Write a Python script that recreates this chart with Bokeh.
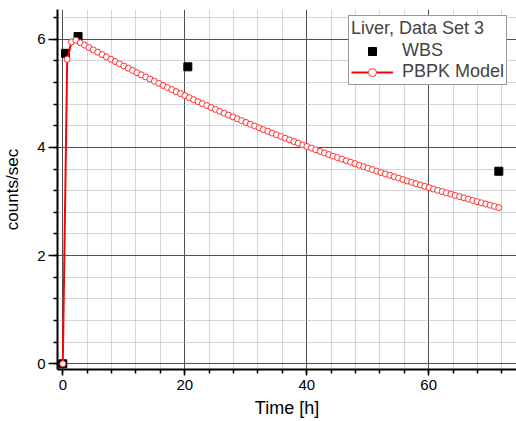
from bokeh.plotting import figure
from bokeh.models import Legend, LegendItem, Range1d, FixedTicker
from bokeh.embed import file_html
from bokeh.resources import INLINE

# WBS measured data
wbs_time = [0.0, 0.45, 2.5, 20.5, 71.5]
wbs_counts = [0.0, 5.74, 6.05, 5.49, 3.56]

# PBPK model curve
model_time = [
    0.00, 0.72, 1.43, 2.15, 2.86, 3.58, 4.29, 5.01, 5.72, 6.44,
    7.15, 7.87, 8.58, 9.30, 10.01, 10.73, 11.44, 12.16, 12.87, 13.59,
    14.30, 15.02, 15.73, 16.45, 17.16, 17.88, 18.59, 19.31, 20.02, 20.74,
    21.45, 22.17, 22.88, 23.60, 24.31, 25.03, 25.74, 26.46, 27.17, 27.89,
    28.60, 29.32, 30.03, 30.75, 31.46, 32.18, 32.89, 33.61, 34.32, 35.04,
    35.75, 36.47, 37.18, 37.90, 38.61, 39.33, 40.04, 40.76, 41.47, 42.19,
    42.90, 43.62, 44.33, 45.05, 45.76, 46.48, 47.19, 47.91, 48.62, 49.34,
    50.05, 50.77, 51.48, 52.20, 52.91, 53.63, 54.34, 55.06, 55.77, 56.49,
    57.20, 57.92, 58.63, 59.35, 60.06, 60.78, 61.49, 62.21, 62.92, 63.64,
    64.35, 65.07, 65.78, 66.50, 67.21, 67.93, 68.64, 69.36, 70.07, 70.79,
    71.50,
]
model_counts = [
    0.000, 5.630, 5.950, 5.980, 5.935, 5.891, 5.847, 5.803, 5.760, 5.717,
    5.674, 5.631, 5.589, 5.547, 5.506, 5.465, 5.424, 5.383, 5.343, 5.303,
    5.263, 5.224, 5.185, 5.146, 5.108, 5.070, 5.032, 4.994, 4.957, 4.920,
    4.883, 4.846, 4.810, 4.774, 4.738, 4.703, 4.668, 4.633, 4.598, 4.564,
    4.530, 4.496, 4.462, 4.429, 4.396, 4.363, 4.330, 4.298, 4.266, 4.234,
    4.202, 4.171, 4.140, 4.109, 4.078, 4.047, 4.017, 3.987, 3.957, 3.927,
    3.898, 3.869, 3.840, 3.811, 3.783, 3.755, 3.727, 3.699, 3.671, 3.644,
    3.617, 3.590, 3.563, 3.536, 3.510, 3.484, 3.458, 3.432, 3.406, 3.381,
    3.356, 3.331, 3.306, 3.281, 3.256, 3.232, 3.208, 3.184, 3.160, 3.136,
    3.113, 3.090, 3.067, 3.044, 3.021, 2.998, 2.976, 2.954, 2.932, 2.910,
    2.888,
]

x_ticks = [0, 20, 40, 60]
y_ticks = [0, 2, 4, 6]

FONT = "Liberation Sans"

p = figure(width=516, height=421, output_backend="svg", toolbar_location=None,
           x_range=Range1d(-0.87, 74.4), y_range=Range1d(-0.105, 6.55),
           min_border_left=57, min_border_right=0, min_border_top=9,
           min_border_bottom=52)
p.outline_line_color = None
p.background_fill_color = "white"
p.border_fill_color = "white"

for ax in (p.xaxis[0], p.yaxis[0]):
    ax.axis_line_width = 2
    ax.axis_line_color = "black"
    ax.major_tick_line_color = "black"
    ax.minor_tick_line_color = "black"
    ax.major_tick_line_width = 1.5
    ax.minor_tick_line_width = 1.5
    ax.major_tick_in = 0
    ax.minor_tick_in = 0
    ax.minor_tick_out = 4
    ax.major_label_text_font = FONT
    ax.major_label_text_font_size = "15px"
    ax.major_label_text_color = "black"
    ax.axis_label_text_font = FONT
    ax.axis_label_text_font_style = "normal"
    ax.axis_label_text_color = "black"

p.xaxis.ticker = FixedTicker(ticks=x_ticks, minor_ticks=[4 * i for i in range(0, 19)])
p.yaxis.ticker = FixedTicker(ticks=y_ticks, minor_ticks=[0.4 * i for i in range(0, 17)])
p.xaxis.axis_label = "Time [h]"
p.yaxis.axis_label = "counts/sec"
p.xaxis.axis_label_text_font_size = "18px"
p.yaxis.axis_label_text_font_size = "17px"
p.xaxis.major_tick_out = 6
p.yaxis.major_tick_out = 9
p.xaxis.major_label_standoff = 4
p.xaxis.axis_label_standoff = 5
p.yaxis.major_label_standoff = 3
p.yaxis.axis_label_standoff = 12

for g in (p.xgrid[0], p.ygrid[0]):
    g.grid_line_color = "#505050"
    g.grid_line_width = 1
    g.minor_grid_line_color = "#aaaaaa"
    g.minor_grid_line_dash = "1 1"
    g.minor_grid_line_width = 1

sq = p.scatter(wbs_time, wbs_counts, marker="square", size=8,
               fill_color="black", line_color="black")
ln = p.line(model_time, model_counts, line_color="red", line_width=2)
ci = p.scatter(model_time, model_counts, marker="circle", size=6,
               fill_color="white", line_color="#ff3030", line_width=1)

legend = Legend(items=[LegendItem(label="WBS", renderers=[sq]),
                       LegendItem(label="PBPK Model", renderers=[ln, ci])],
                location=(291, 284))
legend.title = "Liver, Data Set 3"
legend.title_text_font = FONT
legend.title_text_font_size = "18px"
legend.title_text_font_style = "normal"
legend.title_standoff = 1
legend.label_text_font = FONT
legend.label_text_font_size = "18px"
legend.glyph_width = 42
legend.glyph_height = 20
legend.label_height = 20
legend.label_standoff = 9
legend.spacing = 0
legend.padding = 2
legend.margin = 0
legend.border_line_color = "#333333"
legend.border_line_width = 1
legend.background_fill_alpha = 1
p.add_layout(legend)

open("out.html", "w").write(file_html(p, INLINE))
